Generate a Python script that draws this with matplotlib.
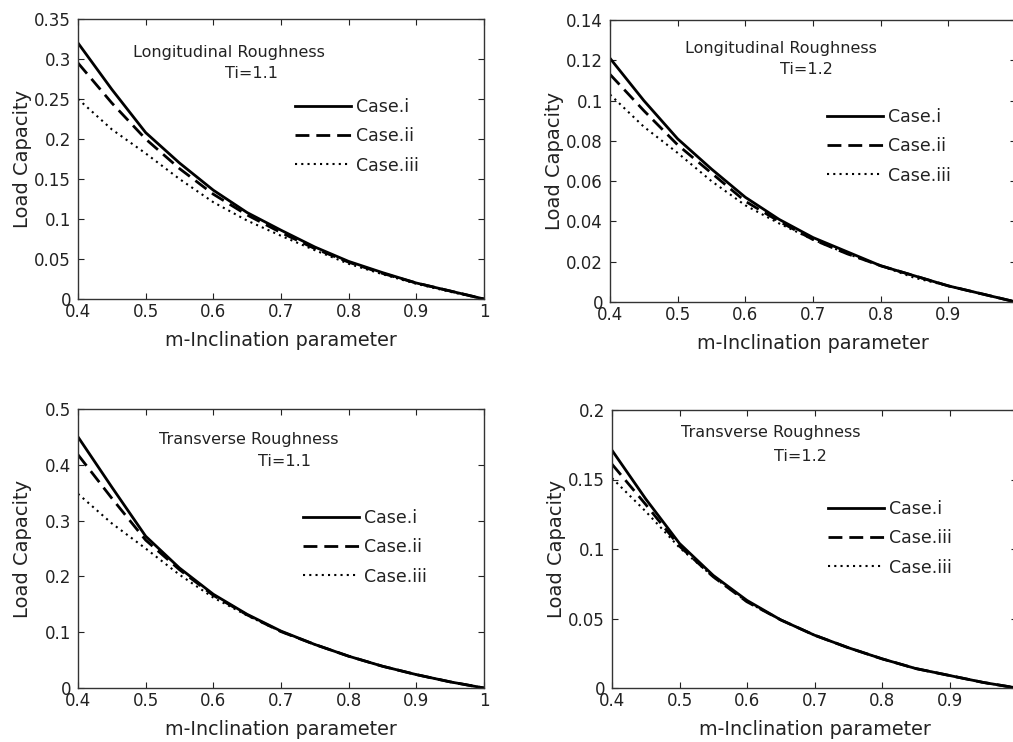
import matplotlib
matplotlib.use("Agg")
import matplotlib.pyplot as plt
from matplotlib.ticker import FuncFormatter, FixedLocator

plt.rcParams['font.family'] = ['DejaVu Sans']

# ---- data ----
m = [0.40, 0.45, 0.50, 0.55, 0.60, 0.65, 0.70, 0.75, 0.80, 0.85, 0.90, 0.95, 1.00]

long11_i   = [0.320, 0.262, 0.208, 0.170, 0.136, 0.108, 0.086, 0.065, 0.047, 0.033, 0.020, 0.010, 0.0]
long11_ii  = [0.295, 0.245, 0.200, 0.163, 0.131, 0.105, 0.083, 0.063, 0.046, 0.032, 0.020, 0.010, 0.0]
long11_iii = [0.250, 0.212, 0.182, 0.150, 0.121, 0.098, 0.079, 0.061, 0.044, 0.031, 0.019, 0.009, 0.0]

long12_i   = [0.121, 0.100, 0.081, 0.066, 0.052, 0.041, 0.032, 0.025, 0.018, 0.013, 0.008, 0.004, 0.0]
long12_ii  = [0.113, 0.095, 0.078, 0.064, 0.050, 0.040, 0.031, 0.024, 0.018, 0.013, 0.008, 0.004, 0.0]
long12_iii = [0.103, 0.087, 0.074, 0.060, 0.048, 0.039, 0.031, 0.024, 0.018, 0.012, 0.008, 0.004, 0.0]

trans11_i   = [0.450, 0.360, 0.272, 0.215, 0.168, 0.132, 0.102, 0.078, 0.057, 0.039, 0.024, 0.011, 0.0]
trans11_ii  = [0.418, 0.340, 0.265, 0.212, 0.166, 0.131, 0.101, 0.078, 0.057, 0.039, 0.024, 0.011, 0.0]
trans11_iii = [0.348, 0.295, 0.250, 0.203, 0.162, 0.130, 0.101, 0.078, 0.057, 0.039, 0.024, 0.011, 0.0]

trans12_i   = [0.171, 0.136, 0.104, 0.081, 0.063, 0.049, 0.038, 0.029, 0.021, 0.014, 0.009, 0.004, 0.0]
trans12_ii  = [0.161, 0.132, 0.102, 0.080, 0.062, 0.049, 0.038, 0.029, 0.021, 0.014, 0.009, 0.004, 0.0]
trans12_iii = [0.151, 0.127, 0.101, 0.080, 0.062, 0.049, 0.038, 0.029, 0.021, 0.014, 0.009, 0.004, 0.0]

x_ticks = [0.4, 0.5, 0.6, 0.7, 0.8, 0.9, 1.0]
yticks_long11 = [0, 0.05, 0.1, 0.15, 0.2, 0.25, 0.3, 0.35]
yticks_long12 = [0, 0.02, 0.04, 0.06, 0.08, 0.1, 0.12, 0.14]
yticks_trans11 = [0, 0.1, 0.2, 0.3, 0.4, 0.5]
yticks_trans12 = [0, 0.05, 0.1, 0.15, 0.2]

labels_a = ["Case.i", "Case.ii", "Case.iii"]
labels_b = ["Case.i", "Case.iii", "Case.iii"]

x_label = "m-Inclination parameter"
y_label = "Load Capacity"

W, H = 1013, 742
fig = plt.figure(figsize=(W / 100, H / 100), dpi=100)

def px_axes(l, t, r, b):
    return fig.add_axes([l / W, 1 - b / H, (r - l) / W, (b - t) / H])

panels = [
    dict(box=(78, 19, 484, 299), ys=(long11_i, long11_ii, long11_iii), yt=yticks_long11,
         labels=labels_a, title=("Longitudinal Roughness", "Ti=1.1"),
         t1=(229, 52), t2=(251, 74), leg=(295, 107)),
    dict(box=(610, 20, 1016, 302), ys=(long12_i, long12_ii, long12_iii), yt=yticks_long12,
         labels=labels_a, title=("Longitudinal Roughness", "Ti=1.2"),
         t1=(781, 48), t2=(806, 70), leg=(827, 117)),
    dict(box=(78, 409, 484, 688), ys=(trans11_i, trans11_ii, trans11_iii), yt=yticks_trans11,
         labels=labels_a, title=("Transverse Roughness", "Ti=1.1"),
         t1=(249, 439), t2=(284, 462), leg=(303, 518)),
    dict(box=(612, 410, 1017, 688), ys=(trans12_i, trans12_ii, trans12_iii), yt=yticks_trans12,
         labels=labels_b, title=("Transverse Roughness", "Ti=1.2"),
         t1=(771, 433), t2=(800, 456), leg=(828, 509)),
]

fmt = FuncFormatter(lambda v, p: "%g" % round(v, 4))

for p in panels:
    ax = px_axes(*p["box"])
    yi, yii, yiii = p["ys"]
    ax.plot(m, yi, color="black", lw=2.0, ls="-", label=p["labels"][0])
    ax.plot(m, yii, color="black", lw=2.0, ls=(0, (5, 2.5)), label=p["labels"][1])
    ax.plot(m, yiii, color="black", lw=1.5, ls=(0, (1, 2)), label=p["labels"][2])
    ax.set_xlim(0.4, 1.0)
    ax.set_ylim(p["yt"][0], p["yt"][-1])
    ax.xaxis.set_major_locator(FixedLocator(x_ticks))
    ax.yaxis.set_major_locator(FixedLocator(p["yt"]))
    ax.xaxis.set_major_formatter(fmt)
    ax.yaxis.set_major_formatter(fmt)
    ax.tick_params(direction="in", length=4, width=0.8, top=True, right=True,
                   labelsize=12, colors="#222222", pad=3)
    ax.tick_params(axis="y", pad=5)
    for s in ax.spines.values():
        s.set_linewidth(1.0)
        s.set_color("#333333")
    ax.set_xlabel(x_label, fontsize=13.8, color="#222222")
    ax.set_ylabel(y_label, fontsize=14, color="#222222")
    ax.xaxis.set_label_coords(0.5, -(331 - 299) / 280)
    ax.yaxis.set_label_coords(-(78 - 32) / 406, 0.5)

    fig.text(p["t1"][0] / W, 1 - p["t1"][1] / H, p["title"][0], fontsize=11.5,
             ha="center", va="center", color="#222222")
    fig.text(p["t2"][0] / W, 1 - p["t2"][1] / H, p["title"][1], fontsize=11.5,
             ha="center", va="center", color="#222222")

    lx, ly = p["leg"]
    leg = ax.legend(loc="upper left", frameon=False, fontsize=12.5,
                    handlelength=3.2, handletextpad=0.3, labelspacing=0.65,
                    borderpad=0, borderaxespad=0,
                    bbox_to_anchor=(lx / W, 1 - (ly - 9) / H),
                    bbox_transform=fig.transFigure)
    for txt in leg.get_texts():
        txt.set_color("#222222")

fig.savefig("out.png", dpi=100)
